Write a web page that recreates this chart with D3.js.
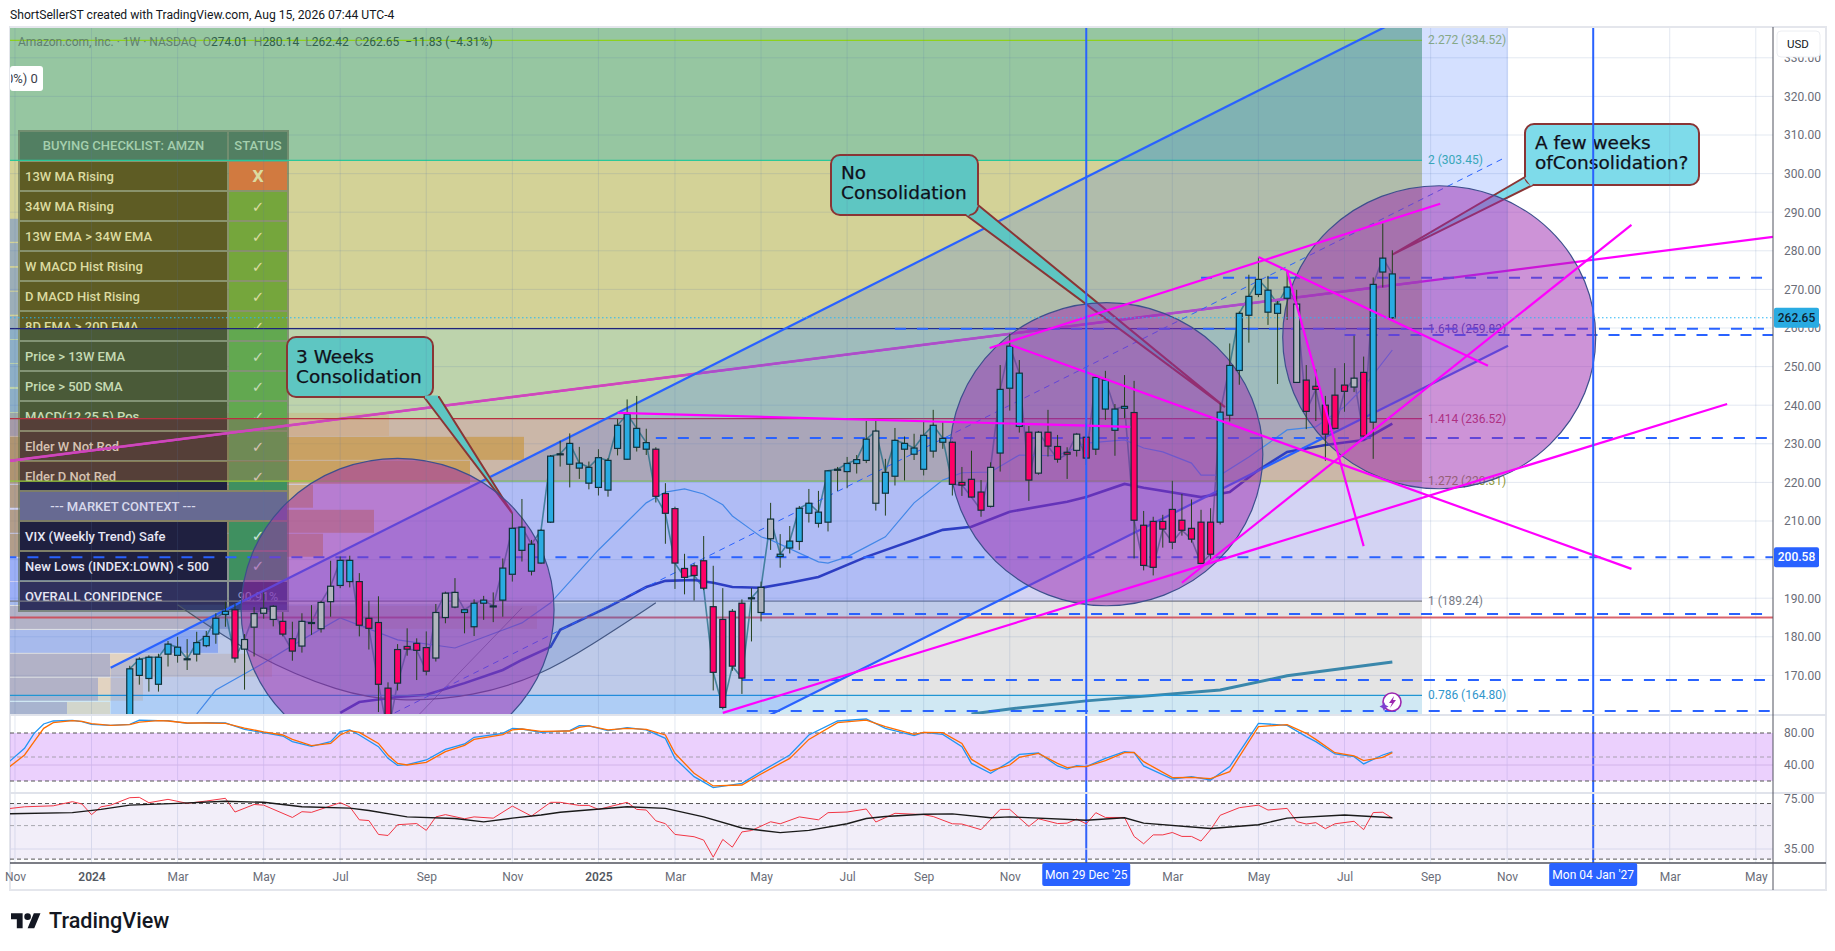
<!DOCTYPE html>
<html lang="en">
<head>
<meta charset="UTF-8">
<title>AMZN weekly</title>
<script src="https://d3js.org/d3.v7.min.js"></script>
<style>
    html, body { margin: 0; padding: 0; background: #fff; }
    svg { display: block; }
    text { font-family: Roboto, "Liberation Sans", sans-serif; }
    .axis text { fill: #6a6d78; font-size: 12px; }
    .axis path, .axis line { display: none; }
    .callout text { font-family: "DejaVu Sans", sans-serif; font-size: 18.5px; fill: #10101a; stroke: #10101a; stroke-width: .25px; }
</style>
</head>
<body>
<div id="chart"></div>
<script>
    // weekly bars, index 0 = week of Mon 1 Jan 2024, first drawn bar is week 4
    const firstBarWeek = 4;
    const barBodyTop = [
        171.7,174.2,174.7,174.7,178.1,177.3,174.3,178.5,180.1,184.8,186.6,187,179.3,186,187.4,187.9,184,179.5,184,183.7,
        188.9,193.1,199.8,199.8,194.3,184.8,183.7,166.7,176.7,177.5,178.3,177.2,186.3,191.3,191.5,187,188.7,189.5,188,197.8,
        208.1,208.4,204,207.6,226.8,227.4,230.1,225,223.9,226.4,225.7,234.8,237.7,234,230.3,228.6,217.1,213.2,197.7,198.4,
        199.7,187.8,184.5,186.6,188.7,190.1,192.8,210.5,201.4,204.8,213.3,214.6,212.3,223,223.4,224.9,225.9,231.2,233.3,222.6,
        230.9,230.1,228.9,232.2,234.8,231.4,230.4,220,220.8,217.5,223.9,244.1,255.3,248.3,233,233,233,229.3,227.8,232.5,
        231.7,247.2,246.5,239,239.7,238.1,208.9,209.9,209.9,213,210.2,208.1,209.7,209.7,238.2,250.3,263.8,268.2,272.6,269.8,
        266.2,270.6,266.2,246.5,244.9,240,242.6,245.2,247,248.5,271.3,278.1,274.01];
    const barBodyBottom = [
        155,170,169.2,167.7,175.5,175.2,174.2,175.5,177.7,180.7,185.8,174.5,176.8,182.5,186.1,184.5,180.7,176.3,177.6,183.5,
        182.1,189.1,193.3,194.3,183,182.2,167.7,155,168,176.8,176.5,171.1,174.5,185,187.7,186.3,182.6,188.7,187.8,189.5,
        196.2,202.4,197,199.1,209.7,227.2,224.7,223.7,219.8,218.7,218,228.8,226,229.1,228.6,216.4,212,199.1,195.4,195.9,
        192.6,170.8,161.7,172.4,169.3,189.9,186.3,205.4,200.8,203,204.7,212,209.4,209.7,223.2,222.8,224.9,225.7,214.6,217.2,
        221.6,228.6,227.3,223.4,228.1,230.4,219.5,219.3,216.2,212.8,213.8,227.6,244.4,234.5,220.6,222.4,229.4,226,227.3,228.3,
        226.3,228.6,239,233.5,239.2,210.2,198.5,198,207.9,204.5,207.6,205.3,199,201.4,209.7,237.4,249,263.3,268.7,264.1,
        263.8,267.7,245.9,238.4,244.1,232.5,234,243.6,244.7,232,235.6,274.5,262.65];
    const barHigh = [
        172.5,174.7,175.2,175.6,178.9,180,179.4,181.3,181.5,186.1,189.1,188.5,180.7,187.7,191.5,188.2,186.4,183.9,186.1,188.2,
        189.3,199.7,200.8,201,196.5,189.3,190.5,168.2,178.1,182.2,179.6,181.4,188.5,191.7,195.2,187.2,189.7,190.6,191.5,200.3,
        212,215.7,205.1,207.8,227.1,230.8,232.7,229.2,225.4,228.6,226.3,236.4,241.5,242.4,233.9,229.1,219.8,213.7,201.5,199,
        206.1,198.4,192.6,187.2,189.7,192.6,194.3,214.7,206.6,208.7,213.9,218.3,217.8,223.2,224,226.6,227.1,235.9,236.4,226.1,
        234.1,231.9,232.6,235.9,238.8,235.9,230.6,224,228.2,220.6,225.2,250.4,258.5,251.7,234.6,233.3,238.8,232.3,229.1,232.7,
        235.3,247.4,248.9,240.3,247.8,246.3,212.6,211.1,211.6,220.4,217,215.6,212.9,213.3,240.5,256,264.3,273.8,278.3,273.5,
        267,274.9,269.9,250.4,249.3,242.4,249.6,250.9,258,252.6,273.1,287.1,280.14];
    const barLow = [
        153,167.6,165.8,165.8,172.3,173.3,171.4,173.6,177.3,178.2,182.6,173.3,166.3,174.9,184.7,182.7,180.1,173.8,175.9,180.5,
        181.1,185.2,192.6,192.8,180.1,176.7,160.5,150,166.1,175.1,168.8,170,173.6,183.5,187.4,180.9,180.2,184.4,183.8,185.2,
        194.3,199.5,195.9,198.9,209.5,224.1,218.7,220.9,218.2,216.6,216.3,227,225.8,228,227.1,214.8,204.1,192.4,191,189.4,
        192.1,166.1,161.2,171.2,165.2,178.8,184,202.5,197.9,201.6,202.5,209.6,208.3,207.3,217.8,218.5,222.3,225,212.7,211.4,
        219.2,220.5,225.8,221.8,226.4,228.7,216.6,216.5,216.1,211.1,213.5,222.8,238.6,232.9,215.2,222,226.7,225.1,220.9,226.7,
        224.5,227.1,236.2,226.9,236.6,200.3,197.2,195.9,203.1,202.7,206.2,204.4,199,199.9,209.1,235.8,245.3,256.2,268,260.8,
        245.5,262.1,255.2,233.8,235.9,225.6,233.8,238.3,243.4,231.2,226.1,270.5,262.42];
    // u = blue, d = pink, g = grey, n = doji, one per bar, weeks 4 to 136
    const barTone = [
        "u","u","u","u","u","u","n","u","u","u","u","d","g","g","g","g","d","d","g","n",
        "g","g","u","u","d","d","d","d","d","d","d","d","g","g","g","u","u","u","n","u",
        "u","u","u","u","u","n","u","u","u","u","u","u","u","u","u","d","d","d","d","d",
        "d","d","d","d","d","n","g","g","u","u","u","u","u","u","n","u","u","u","g","u",
        "u","u","u","u","u","u","d","d","d","d","g","u","u","u","d","g","d","d","d","g",
        "d","u","u","u","u","d","d","d","d","d","d","d","d","d","u","u","u","u","u","u",
        "u","u","g","d","d","d","d","d","g","d","u","u","u"];

    const ma13Weeks = [11,13,18,22,26,32,38,45,48,53,58,60,62,64,66,67,69,70,71,76,77,79,81,83,86,89,91,94,97,101,104,108,110,112,115,116,118,121,124,125,128,131,133,136];
    const ma13Values = [160,166.2,173.2,179.2,184.9,179.2,177.1,183.6,188.8,202.5,214.7,217.5,218.3,217,214.2,211.3,207.7,205.9,205.1,199.4,199.1,200.7,203.3,205.9,214.7,220.6,222.5,222.7,227.1,226.9,230.2,231,228.9,227.9,225,221.9,221.9,226.6,231.8,233.6,234.4,239.6,244.7,254.3];
    const ma34Weeks = [26,28,32,35,39,43,45,48,49,54,56,58,60,63,65,67,70,73,76,81,89,92,96,102,104,108,110,116,119,122,125,129,133,136];
    const ma34Values = [160.3,163.1,164.4,165,168,171.4,174,177.4,181.8,187.7,190.3,192.9,194.5,194.7,194,192.9,192.7,194,195.5,200.7,207.7,208.5,212.4,215,216.2,219.6,218.6,216.2,217.5,223.2,227.9,229.7,231,235.2];
    const ma200Weeks = [92,96,104,118,125,136];
    const ma200Values = [160,161.3,163.4,166.2,169.9,173.5];

    const stochWeeks = [-9,-7,-6,-5,-4,-2,-1,0,2,4,5,7,8,10,12,14,16,18,20,21,23,25,26,27,28,30,31,32,33,35,37,39,40,43,44,45,47,50,51,52,54,56,58,60,61,63,65,68,70,73,75,78,81,83,86,87,89,91,92,94,96,97,99,101,102,103,104,106,108,109,110,113,115,117,119,122,125,127,128,130,132,133,135,136];
    const stochK = [40,60.8,79.6,91.3,95,95.8,94.2,90.8,89.6,90.8,96.2,95.4,95.4,92.1,92.9,92.5,84.6,80.4,76.2,69.2,63.3,69.2,81.7,83.8,77.5,62.9,48.3,39.6,40.4,46.3,59.6,66.3,74.6,79.6,85.8,85,80.8,82.9,89.2,88.8,82.9,86.7,83.8,73.3,48.3,25.4,11.7,17.1,31.7,52.5,77.5,95,97.5,85.8,76.7,80.8,78.3,62.9,42,29.6,44.2,53.3,55,38.8,35,39.2,38,48.3,56.7,55.4,38.8,22.5,25.4,21.3,38,92.1,89.6,75.4,69.2,53.8,50.4,41.3,52.5,56.3];
    const stochD = [33.7,52.5,69.2,85.8,93,95.4,94.6,91.7,89.6,90.4,93.7,95.4,95,92.5,92.5,92,86.2,81.3,77.5,72,64.2,67,77.5,82.9,80.8,67,52.5,42,40,43.3,56.7,64.6,72,78,83.8,85,82,82.5,87,88.8,83.8,85.8,84.6,77.5,54.6,29.6,13.8,15,28.7,48.3,72,93,96.2,88,78.3,80.8,80.4,67,47,32.9,40,49.6,54.6,42,36.7,38,38,45.4,55.4,55.8,44.2,24.2,24.6,23,31.7,88,90.4,79.6,72,55.4,51.3,45.4,49.6,55.4];

    const rsiWeeks = [-9,-7,-4,-2,-1,0,1,2,4,5,6,8,10,12,14,15,17,18,21,22,23,26,27,28,29,30,31,32,34,35,36,37,39,40,42,44,46,48,49,51,52,53,56,57,58,59,60,61,63,64,65,66,67,68,69,71,72,74,76,77,79,81,82,84,87,88,90,91,93,95,96,98,99,101,102,103,104,105,106,108,109,110,111,112,113,114,115,116,117,118,120,122,123,125,126,127,128,129,130,132,133,134,135,136];
    const rsiValues = [64.4,66.6,67.6,72,69.5,59.1,66.6,68.3,76.5,76.9,70.9,74.6,70.2,72.7,75.8,61.5,69,68.3,56.6,61.8,61.2,70.9,66.6,54.6,54,43.7,43,50.7,51.6,46.5,57.1,59.1,55.5,57.1,56,67.3,57.8,71.3,71.3,68,68,64,71.3,64,63.4,53.8,51.5,43.7,42.2,40.1,30.9,40.5,36,45.4,46.4,53,51.4,57.1,54.6,60.9,61.5,64.4,52.8,60.3,59.1,57.4,51.4,51.2,47,64,64,49.4,55.5,51.6,51.9,55.2,51.4,60.9,56.6,56.6,42.4,37.9,43.4,43.4,45,42.4,42.4,39.5,47,58.5,65.7,68.3,63.4,65,53.2,51.2,52.3,47.7,51.4,53.4,47,61,61.3,56];
    const rsiMaWeeks = [-9,-2,1,4,9,14,18,22,27,29,33,38,41,44,47,49,56,60,64,68,72,75,79,81,83,87,90,94,96,104,108,110,117,122,125,131,136];
    const rsiMaValues = [59.8,60.9,64,68.3,70.2,72.4,71.3,66.6,65.3,62.9,57.1,55.7,52.9,56,58.8,61.3,66.6,65,57.1,48.2,44.9,46.5,51.4,55.7,57.4,59.5,59.8,56.3,57.1,54.3,56.3,51.9,47.8,50.7,56,58.8,56.3];

    // fib levels of the trend based extension
    const fibRatios = ["2.272","2","1.618","1.414","1.272","1","0.786"];
    const fibPrices = [334.52,303.45,259.82,236.52,220.31,189.24,164.80];
    const fibEndWeek = 139.1;

    const priceTicks = [330,320,310,300,290,280,270,260,250,240,230,220,210,200,190,180,170];
    const lastQuote = { o: 274.01, h: 280.14, l: 262.42, c: 262.65, chg: "−11.83 (−4.31%)" };
    const alertPrice = 200.58;

    const tickDates = ["2023-11-06","2024-01-01","2024-03-04","2024-05-06","2024-07-01","2024-09-02","2024-11-04","2025-01-06","2025-03-03","2025-05-05","2025-07-07","2025-09-01","2025-11-03","2026-03-02","2026-05-04","2026-07-06","2026-09-07","2026-11-02","2027-03-01","2027-05-03"];
    const tickLabels = ["Nov","2024","Mar","May","Jul","Sep","Nov","2025","Mar","May","Jul","Sep","Nov","Mar","May","Jul","Sep","Nov","Mar","May"];
    const markedDates = ["2025-12-29","2027-01-04"];
    const markedLabels = ["Mon 29 Dec '25","Mon 04 Jan '27"];

    // [week, price, week, price]
    const channelUpper = [2,172,148.1,354];
    const channelLower = [2,74.3,148.1,255.4];
    const fadedTrend = [-8.52,225.6,175.8,283.6];
    const trendLines = [
        [93.9,254.8,141,292.2],[96.1,255.6,161,197.6],[55,238,108.6,234.4],[66,160.3,171,240.3],
        [122,278.4,146,250.2],[125,274.8,133,203.5],[114,194,161,286.7]];
    const fibTrend = [31.7,160.3,147.5,303.8];
    const dashPrices = [259.82,258.2,273,231.5,200.58,185.9,168.8,160.8];
    const dashStartWeeks = [84,131,116,59,-9,70,68,68.5];
    const arcWeeks = [9,17,26,32,40,47,52,59];
    const arcPrices = [188.3,174.8,165.5,163.1,164.4,170.1,177.4,188.8];

    // ellipse: centre week, centre price, half width in weeks, half height in dollars
    const circleWeeks = [32,106.1,140.9];
    const circlePrices = [187,227.3,257.6];
    const circleHalfWeeks = 16.36;
    const circleHalfPrice = 39.25;

    // volume profile rows, anchored on the left edge
    const vpTops = [288.3,282,275.6,269.4,263.1,256.9,250.7,244.2,238,231.8,225.6,219.4,212.9,206.7,200.4,194.2,188,181.8,175.6,169.4,163.1];
    const vpUp =   [8,8,8,8,8,8,8,8,8,8,8,60,60,60,60,60,220,208,100,88,57];
    const vpMain = [0,0,0,0,0,0,0,0,0,514,460,303,364,313,0,0,0,0,0,0,0];
    const vpPale = [0,0,0,0,0,0,0,0,379,0,0,0,0,0,0,0,527,0,262,133,100];

    const checkNames = ["13W MA Rising","34W MA Rising","13W EMA > 34W EMA","W MACD Hist Rising","D MACD Hist Rising","8D EMA > 20D EMA","Price > 13W EMA","Price > 50D SMA","MACD(12,25,5) Pos","Elder W Not Red","Elder D Not Red"];
    const checkMarks = ["X","✓","✓","✓","✓","✓","✓","✓","✓","✓","✓"];
    const contextNames = ["VIX (Weekly Trend) Safe","New Lows (INDEX:LOWN) < 500","OVERALL CONFIDENCE"];
    const contextMarks = ["✓","✓","90.91%"];

    const width = 1835, height = 951;
    const paneLeft = 10, axisX = 1773, paneRight = 1826, paneTop = 28, priceBottom = 714, stochBottom = 793, timeY = 863, chartBottom = 890;

    const svg = d3.select("#chart").append("svg").attr("width", width).attr("height", height);
    const defs = svg.append("defs");
    defs.append("clipPath").attr("id", "pane").append("rect")
        .attr("x", paneLeft).attr("y", paneTop).attr("width", axisX - paneLeft).attr("height", priceBottom - paneTop);
    defs.append("clipPath").attr("id", "osc").append("rect")
        .attr("x", paneLeft).attr("y", priceBottom).attr("width", axisX - paneLeft).attr("height", timeY - priceBottom);
    defs.append("clipPath").attr("id", "chip").append("rect")
        .attr("x", 11).attr("y", 60).attr("width", 40).attr("height", 40);

    const parseDay = d3.utcParse("%Y-%m-%d");
    const week0 = parseDay("2024-01-01");
    const weekDate = w => new Date(+week0 + w * 7 * 864e5);
    const xScale = d3.scaleUtc().domain([week0, parseDay("2027-01-04")]).range([91.5, 1593.2]);
    const x = w => xScale(weekDate(w));
    const y = d3.scaleLinear().domain([310, 190]).range([135, 598.2]);
    const yStoch = d3.scaleLinear().domain([80, 40]).range([733, 765]);
    const yRsi = d3.scaleLog().domain([75, 35]).range([799, 849]);

    defs.append("clipPath").attr("id", "fibzone").append("rect")
        .attr("x", paneLeft).attr("y", paneTop).attr("width", x(fibEndWeek) - paneLeft).attr("height", priceBottom - paneTop);

    const priceLine = d3.line().x(d => x(d[0])).y(d => y(d[1]));
    const zipLine = (weeks, vals) => weeks.map((w, i) => [w, vals[i]]);
    const gridColor = "rgba(90,120,170,.17)";

    // frame
    svg.append("rect").attr("x", paneLeft).attr("y", 27).attr("width", paneRight - paneLeft).attr("height", chartBottom - 27)
        .attr("fill", "#fff").attr("stroke", "#e4e6ec").attr("stroke-width", 2);
    svg.append("text").attr("x", 10).attr("y", 19).attr("font-size", 12.15).attr("fill", "#131722")
        .text("ShortSellerST created with TradingView.com, Aug 15, 2026 07:44 UTC-4");

    // ---- price pane ----
    const pane = svg.append("g").attr("clip-path", "url(#pane)");

    const bandFills = ["#96c6a1","#d3d297","#bdd3ac","#cbb7a8","#d3d3f3","#e4e4e4","#d0e8f3"];
    const bandEdges = [400].concat(fibPrices.slice(1), [100]);
    bandFills.forEach((c, i) => {
        pane.append("rect").attr("x", paneLeft).attr("width", x(fibEndWeek) - paneLeft)
            .attr("y", y(bandEdges[i])).attr("height", y(bandEdges[i + 1]) - y(bandEdges[i])).attr("fill", c);
    });

    // grid
    priceTicks.forEach(p => pane.append("line").attr("x1", paneLeft).attr("x2", axisX)
        .attr("y1", y(p)).attr("y2", y(p)).attr("stroke", gridColor));
    tickDates.forEach(d => svg.append("line").attr("x1", xScale(parseDay(d))).attr("x2", xScale(parseDay(d)))
        .attr("y1", paneTop).attr("y2", timeY).attr("stroke", gridColor));

    // volume profile
    const vpX = d3.scaleLinear().domain([0, 100]).range([paneLeft, paneLeft + 100]);
    vpTops.forEach((p, i) => {
        const ry = y(p), rh = 23;
        if (vpUp[i]) pane.append("rect").attr("x", paneLeft).attr("y", ry).attr("width", vpX(vpUp[i]) - paneLeft).attr("height", rh).attr("fill", "rgba(41,98,255,.32)");
        if (vpMain[i]) pane.append("rect").attr("x", paneLeft).attr("y", ry).attr("width", vpX(vpMain[i]) - paneLeft).attr("height", rh).attr("fill", "rgba(200,140,30,.5)");
        if (vpPale[i]) pane.append("rect").attr("x", paneLeft).attr("y", ry).attr("width", vpX(vpPale[i]) - paneLeft).attr("height", rh).attr("fill", "rgba(220,150,70,.22)");
    });

    // close line and averages sit under the circles
    pane.append("path").attr("fill", "none").attr("stroke", "rgba(30,110,100,.75)").attr("stroke-width", 1.6)
        .attr("d", priceLine(barBodyTop.map((t, i) => [firstBarWeek + i, barTone[i] === "d" ? barBodyBottom[i] : t])));
    pane.append("path").attr("fill", "none").attr("stroke", "#4a90e2").attr("stroke-width", 1.2)
        .attr("d", priceLine(zipLine(ma13Weeks, ma13Values)));
    pane.append("path").attr("fill", "none").attr("stroke", "#2f35b5").attr("stroke-width", 2.6)
        .attr("d", priceLine(zipLine(ma34Weeks, ma34Values)));
    pane.append("path").attr("fill", "none").attr("stroke", "#3a87ab").attr("stroke-width", 3)
        .attr("d", priceLine(zipLine(ma200Weeks, ma200Values)));

    // checklist table
    const bandBreaks = [0, 329, 419, 482, 999];
    const nameCols = ["#5e5c24","#4a5a38","#553f38","#1f2040"];
    const statusCols = ["#75a63c","#62a850","#6f8a55","#3f9060"];
    const inkCols = ["#dcdba0","#c6dab4","#d6c2b2","#e6e6f4"];
    const tbl = pane.append("g");
    tbl.append("rect").attr("x", 18).attr("y", 130).attr("width", 271).attr("height", 482).attr("fill", "rgba(90,105,80,.6)");
    function bandedCell(cx, cy, cw, ch, cols) {
        bandBreaks.slice(0, -1).forEach((b, i) => {
            const a = Math.max(cy, b), e = Math.min(cy + ch, bandBreaks[i + 1]);
            if (e > a) tbl.append("rect").attr("x", cx).attr("y", a).attr("width", cw).attr("height", e - a).attr("fill", cols[i]);
        });
    }
    const nameX = 20, nameW = 207, statX = 229, statW = 58;
    tbl.append("rect").attr("x", nameX).attr("y", 132).attr("width", nameW).attr("height", 28).attr("fill", "#527f62");
    tbl.append("rect").attr("x", statX).attr("y", 132).attr("width", statW).attr("height", 28).attr("fill", "#527f62");
    tbl.append("text").attr("x", nameX + nameW / 2).attr("y", 150).attr("text-anchor", "middle").attr("font-size", 13).attr("font-weight", 500).attr("fill", "#a5cfae").text("BUYING CHECKLIST: AMZN");
    tbl.append("text").attr("x", statX + statW / 2).attr("y", 150).attr("text-anchor", "middle").attr("font-size", 13).attr("font-weight", 500).attr("fill", "#a5cfae").text("STATUS");

    checkNames.forEach((t, i) => {
        const ry = 162 + i * 30;
        bandedCell(nameX, ry, nameW, 28, nameCols);
        if (checkMarks[i] === "X") tbl.append("rect").attr("x", statX).attr("y", ry).attr("width", statW).attr("height", 28).attr("fill", "#d17a40");
        else bandedCell(statX, ry, statW, 28, statusCols);
        // fib lines cut these labels on the band edge
        const cut = bandBreaks.find(b => b > ry && b < ry + 28) || ry + 30;
        const cid = "row" + i;
        defs.append("clipPath").attr("id", cid).append("rect").attr("x", 18).attr("y", ry - 2).attr("width", 271).attr("height", cut - ry + 2);
        const ink = inkCols[d3.bisectRight(bandBreaks, ry + 2) - 1];
        const g = tbl.append("g").attr("clip-path", "url(#" + cid + ")");
        g.append("text").attr("x", nameX + 5).attr("y", ry + 19).attr("font-size", 13).attr("font-weight", 500).attr("fill", ink).text(t);
        g.append("text").attr("x", statX + statW / 2).attr("y", ry + 20).attr("text-anchor", "middle")
            .style("font-family", "DejaVu Sans").attr("font-size", 15).attr("font-weight", 700).attr("fill", ink).text(checkMarks[i]);
    });
    tbl.append("rect").attr("x", nameX).attr("y", 492).attr("width", 267).attr("height", 28).attr("fill", "#676a92");
    tbl.append("text").attr("x", 123).attr("y", 511).attr("text-anchor", "middle").attr("font-size", 13).attr("font-weight", 500).attr("fill", "#d8d9ec").text("--- MARKET CONTEXT ---");
    contextNames.forEach((t, i) => {
        const ry = 522 + i * 30;
        tbl.append("rect").attr("x", nameX).attr("y", ry).attr("width", nameW).attr("height", 28).attr("fill", i === 2 ? "#30315e" : "#1f2040");
        tbl.append("rect").attr("x", statX).attr("y", ry).attr("width", statW).attr("height", 28).attr("fill", i === 2 ? "#30315e" : "#3f9060");
        tbl.append("text").attr("x", nameX + 5).attr("y", ry + 19).attr("font-size", 13).attr("font-weight", 500).attr("fill", "#e6e6f4").text(t);
        tbl.append("text").attr("x", statX + statW / 2).attr("y", ry + 19).attr("text-anchor", "middle")
            .style("font-family", i === 2 ? "Roboto" : "DejaVu Sans").attr("font-size", i === 2 ? 12.5 : 15).attr("fill", i === 2 ? "#8f8fc0" : "#cfe6d6").text(contextMarks[i]);
    });

    // long trend line: bright past the fib block, muted over it
    const fadedPts = [[fadedTrend[0],fadedTrend[1]],[fadedTrend[2],fadedTrend[3]]];
    pane.append("path").attr("fill", "none").attr("stroke", "#ff00ff").attr("stroke-width", 2.2).attr("d", priceLine(fadedPts));
    pane.append("g").attr("clip-path", "url(#fibzone)").append("path").attr("fill", "none").attr("stroke", "#cc4ab8").attr("stroke-width", 2.4).attr("d", priceLine(fadedPts));

    // fib lines and labels
    const fibLineCols = ["#8fd01c","#2ac79a","#20247a","#b83040","#8fc83a","#787b86","#2196d3"];
    const fibTextCols = ["#9dba6a","#3cb8a8","#3d3fa8","#c03a55","#8f9a3c","#787b86","#2f96cc"];
    fibPrices.forEach((p, i) => {
        pane.append("line").attr("x1", paneLeft).attr("x2", x(fibEndWeek)).attr("y1", y(p)).attr("y2", y(p))
            .attr("stroke", fibLineCols[i]).attr("stroke-width", 1.2);
        pane.append("text").attr("x", x(fibEndWeek) + 6).attr("y", y(p) + 4).attr("font-size", 12).attr("fill", fibTextCols[i])
            .text(fibRatios[i] + " (" + p.toFixed(2) + ")");
    });
    // red level runs across the whole pane
    pane.append("line").attr("x1", paneLeft).attr("x2", axisX).attr("y1", y(185)).attr("y2", y(185))
        .attr("stroke", "#d03c48").attr("stroke-width", 2).attr("stroke-opacity", .8);

    // arc drawing
    const arcLine = d3.line().x(d => x(d[0])).y(d => y(d[1])).curve(d3.curveBasis);
    pane.append("path").attr("d", arcLine(zipLine(arcWeeks, arcPrices)))
        .attr("fill", "rgba(70,105,165,.22)").attr("stroke", "#4c5566").attr("stroke-width", 1.2);
    pane.append("path").attr("fill", "none").attr("stroke", "rgba(50,50,80,.5)")
        .attr("d", priceLine([[34.3,160],[45,187.5]]));

    // blue channel
    pane.append("path").attr("fill", "rgba(41,98,255,.2)")
        .attr("d", priceLine([[channelUpper[0],channelUpper[1]],[channelUpper[2],channelUpper[3]],[channelLower[2],channelLower[3]],[channelLower[0],channelLower[1]]]) + "Z");
    [channelUpper, channelLower].forEach(c => pane.append("path").attr("fill", "none").attr("stroke", "#2962ff").attr("stroke-width", 2.2)
        .attr("d", priceLine([[c[0],c[1]],[c[2],c[3]]])));
    pane.append("path").attr("fill", "none").attr("stroke", "#2962ff").attr("stroke-width", 1).attr("stroke-dasharray", "6 5")
        .attr("d", priceLine([[fibTrend[0],fibTrend[1]],[fibTrend[2],fibTrend[3]]]));

    // horizontal dashed levels
    dashPrices.forEach((p, i) => pane.append("line").attr("x1", x(dashStartWeeks[i])).attr("x2", axisX).attr("y1", y(p)).attr("y2", y(p))
        .attr("stroke", "#2962ff").attr("stroke-width", 2).attr("stroke-dasharray", "11 11"));

    // dotted last price
    svg.append("line").attr("x1", paneLeft).attr("x2", axisX).attr("y1", y(lastQuote.c)).attr("y2", y(lastQuote.c))
        .attr("stroke", "#29b6f6").attr("stroke-width", 1).attr("stroke-dasharray", "1.5 2.5");

    // marked verticals
    markedDates.forEach(d => svg.append("line").attr("x1", xScale(parseDay(d))).attr("x2", xScale(parseDay(d)))
        .attr("y1", paneTop).attr("y2", timeY).attr("stroke", "#2962ff").attr("stroke-width", 2));

    // callouts
    function callout(bx, by, bw, bh, fill, tail, lines, tx, tyStart) {
        const g = pane.append("g").attr("class", "callout");
        g.append("path").attr("d", d3.line()(tail) + "Z").attr("fill", fill).attr("stroke", "#8a3535").attr("stroke-width", 2);
        g.append("rect").attr("x", bx).attr("y", by).attr("width", bw).attr("height", bh).attr("rx", 9)
            .attr("fill", fill).attr("stroke", "#8a3535").attr("stroke-width", 2);
        lines.forEach((t, i) => g.append("text").attr("x", tx).attr("y", tyStart + i * 20).text(t));
        // hide the tail edge where it meets the box
        g.append("line").attr("x1", tail[0][0] + 1).attr("y1", tail[0][1]).attr("x2", tail[2][0] - 1).attr("y2", tail[2][1])
            .attr("stroke", fill).attr("stroke-width", 3);
    }
    callout(287, 337, 146, 60, "#5ec6c2", [[424,397],[x(44),y(212)],[439,397]], ["3 Weeks","Consolidation"], 296, 363);
    callout(831, 155, 147, 60, "#5ec6c2", [[966,215],[x(118.5),y(239.5)],[978,205]], ["No","Consolidation"], 841, 179);
    callout(1525, 124, 174, 61, "#7edbea", [[1525,177],[x(136),y(279)],[1533,185]], ["A few weeks","ofConsolidation?"], 1535, 149);

    // circles
    circleWeeks.forEach((w, i) => pane.append("ellipse")
        .attr("cx", x(w)).attr("cy", y(circlePrices[i]))
        .attr("rx", x(circleHalfWeeks) - x(0)).attr("ry", y(0) - y(circleHalfPrice))
        .attr("fill", "rgba(156,39,176,.5)").attr("stroke", "#3d4f8d").attr("stroke-width", 1.2));

    // candles
    const toneFill = { u: "#29abe2", d: "#ff0066", g: "#b2b5be", n: "#1c3c44" };
    const candles = pane.append("g");
    barHigh.forEach((h, i) => {
        const cx = x(firstBarWeek + i);
        candles.append("line").attr("x1", cx).attr("x2", cx).attr("y1", y(h)).attr("y2", y(barLow[i]))
            .attr("stroke", "#24401c").attr("stroke-width", 1);
    });
    barBodyTop.forEach((t, i) => {
        const cx = x(firstBarWeek + i);
        candles.append("rect").attr("x", cx - 3).attr("width", 6)
            .attr("y", y(t)).attr("height", Math.max(1, y(barBodyBottom[i]) - y(t)))
            .attr("fill", toneFill[barTone[i]]).attr("stroke", "#10303a").attr("stroke-width", 1.2);
    });

    // bright trend lines on top
    trendLines.forEach(l => pane.append("path").attr("fill", "none").attr("stroke", "#ff00ff").attr("stroke-width", 2.2)
        .attr("d", priceLine([[l[0],l[1]],[l[2],l[3]]])));

    // legend row and chip
    const legend = svg.append("text").attr("x", 18).attr("y", 46).attr("font-size", 12).attr("fill", "#5f8070");
    legend.append("tspan").text("Amazon.com, Inc. · 1W · NASDAQ");
    [["O", lastQuote.o], ["H", lastQuote.h], ["L", lastQuote.l], ["C", lastQuote.c]].forEach(q => {
        legend.append("tspan").attr("dx", 6).text(q[0]);
        legend.append("tspan").attr("fill", "#2f5f4c").text(q[1]);
    });
    legend.append("tspan").attr("dx", 6).attr("fill", "#2f5f4c").text(lastQuote.chg);
    svg.append("rect").attr("x", 10).attr("y", 66).attr("width", 33).attr("height", 25).attr("rx", 3).attr("fill", "#fff");
    svg.append("text").attr("clip-path", "url(#chip)").attr("x", 6).attr("y", 83).attr("font-size", 13).attr("fill", "#3a3e4a").text("0%) 0");

    // sparkle badge
    const badge = pane.append("g").attr("transform", "translate(1392,702)");
    badge.append("circle").attr("r", 9).attr("fill", "#fff").attr("stroke", "#9c27b0").attr("stroke-width", 1.6);
    badge.append("path").attr("d", "M2,-6 L-3,1 L0,1 L-2,6 L4,-2 L1,-2 Z").attr("fill", "#9c27b0");
    badge.append("path").attr("d", "M-8,0 L-6.5,3 L-3.5,4.5 L-6.5,6 L-8,9 L-9.5,6 L-12.5,4.5 L-9.5,3 Z").attr("fill", "#7e3fd0");

    // ---- stochastic pane ----
    const osc = svg.append("g").attr("clip-path", "url(#osc)");
    osc.append("rect").attr("x", paneLeft).attr("width", axisX - paneLeft).attr("y", yStoch(80)).attr("height", yStoch(20) - yStoch(80)).attr("fill", "rgba(170,60,245,.24)");
    osc.append("line").attr("x1", paneLeft).attr("x2", axisX).attr("y1", yStoch(40)).attr("y2", yStoch(40)).attr("stroke", "#d2b4ea");
    [[80, "#555"], [50, "#a8a0b0"], [20, "#555"]].forEach(d => osc.append("line").attr("x1", paneLeft).attr("x2", axisX)
        .attr("y1", yStoch(d[0])).attr("y2", yStoch(d[0])).attr("stroke", d[1]).attr("stroke-dasharray", "4 3"));
    const stochLine = d3.line().x(d => x(d[0])).y(d => yStoch(d[1]));
    osc.append("path").attr("fill", "none").attr("stroke", "#2196f3").attr("stroke-width", 1.3).attr("d", stochLine(zipLine(stochWeeks, stochK)));
    osc.append("path").attr("fill", "none").attr("stroke", "#ff6d00").attr("stroke-width", 1.3).attr("d", stochLine(zipLine(stochWeeks, stochD)));

    svg.append("line").attr("x1", paneLeft).attr("x2", paneRight).attr("y1", stochBottom).attr("y2", stochBottom).attr("stroke", "#e0e3eb").attr("stroke-width", 2);
    svg.append("line").attr("x1", paneLeft).attr("x2", paneRight).attr("y1", priceBottom + 1).attr("y2", priceBottom + 1).attr("stroke", "#e0e3eb").attr("stroke-width", 2);

    // ---- rsi pane ----
    osc.append("rect").attr("x", paneLeft).attr("width", axisX - paneLeft).attr("y", yRsi(70)).attr("height", yRsi(30) - yRsi(70)).attr("fill", "rgba(126,87,194,.1)");
    osc.append("line").attr("x1", paneLeft).attr("x2", axisX).attr("y1", yRsi(35)).attr("y2", yRsi(35)).attr("stroke", "#d8d8ec");
    [[70, "#555"], [50, "#a8a8b0"], [30, "#555"]].forEach(d => osc.append("line").attr("x1", paneLeft).attr("x2", axisX)
        .attr("y1", yRsi(d[0])).attr("y2", yRsi(d[0])).attr("stroke", d[1]).attr("stroke-dasharray", "4 3"));
    const rsiLine = d3.line().x(d => x(d[0])).y(d => yRsi(d[1]));
    osc.append("path").attr("fill", "none").attr("stroke", "#f23645").attr("stroke-width", 1).attr("d", rsiLine(zipLine(rsiWeeks, rsiValues)));
    osc.append("path").attr("fill", "none").attr("stroke", "#1a1a1a").attr("stroke-width", 1.4).attr("d", rsiLine(zipLine(rsiMaWeeks, rsiMaValues)));

    // ---- axes ----
    svg.append("line").attr("x1", paneLeft).attr("x2", paneRight).attr("y1", timeY).attr("y2", timeY).attr("stroke", "#50535e").attr("stroke-width", 1.4);
    svg.append("line").attr("x1", axisX).attr("x2", axisX).attr("y1", 27).attr("y2", chartBottom).attr("stroke", "#50535e");

    // the 200 label sits behind the alert tag
    svg.append("g").attr("class", "axis").attr("transform", "translate(" + (axisX + 3) + ",0)")
        .call(d3.axisRight(y).tickValues(priceTicks.filter(p => p !== 200)).tickFormat(d => d.toFixed(2)).tickSize(5));
    svg.append("g").attr("class", "axis").attr("transform", "translate(" + (axisX + 3) + ",0)")
        .call(d3.axisRight(yStoch).tickValues([80, 40]).tickFormat(d => d.toFixed(2)).tickSize(5));
    svg.append("g").attr("class", "axis").attr("transform", "translate(" + (axisX + 3) + ",0)")
        .call(d3.axisRight(yRsi).tickValues([75, 35]).tickFormat(d => d.toFixed(2)).tickSize(5));

    const timeAxis = svg.append("g").attr("class", "axis").attr("transform", "translate(0," + timeY + ")")
        .call(d3.axisBottom(xScale).tickValues(tickDates.map(parseDay)).tickFormat((d, i) => tickLabels[i]).tickSize(4));
    timeAxis.selectAll("text").filter((d, i) => tickLabels[i].length === 4)
        .attr("font-weight", 600).style("fill", "#555a64");
    timeAxis.selectAll("text").attr("dy", "0.95em");

    markedDates.forEach((d, i) => {
        const cx = xScale(parseDay(d));
        svg.append("rect").attr("x", cx - 44).attr("y", timeY).attr("width", 88).attr("height", 23).attr("rx", 2).attr("fill", "#2962ff");
        svg.append("text").attr("x", cx).attr("y", timeY + 16).attr("text-anchor", "middle").attr("font-size", 12).attr("fill", "#fff").text(markedLabels[i]);
    });

    // price tags
    [[lastQuote.c, "#29abe2", "#0d2230"], [alertPrice, "#2962ff", "#fff"]].forEach(t => {
        svg.append("rect").attr("x", axisX + 1).attr("y", y(t[0]) - 10).attr("width", 45).attr("height", 20).attr("rx", 2).attr("fill", t[1]);
        svg.append("text").attr("x", axisX + 23.5).attr("y", y(t[0]) + 4).attr("text-anchor", "middle").attr("font-size", 12).attr("font-weight", 500).attr("fill", t[2]).text(t[0].toFixed(2));
    });
    svg.append("rect").attr("x", 1777).attr("y", 31).attr("width", 43).attr("height", 26).attr("rx", 4).attr("fill", "#fff").attr("stroke", "#eceef2");
    svg.append("text").attr("x", 1798).attr("y", 48).attr("text-anchor", "middle").attr("font-size", 11.5).attr("fill", "#131722").text("USD");

    // brand
    const logo = svg.append("g").attr("transform", "translate(11,910) scale(.83)").attr("fill", "#131722");
    logo.append("path").attr("d", "M14 22H7V11H0V4h14v18zM28 22h-8l7.5-18h8L28 22z");
    logo.append("circle").attr("cx", 20).attr("cy", 8).attr("r", 4);
    svg.append("text").attr("x", 49).attr("y", 928).attr("font-size", 21.6).attr("font-weight", 500).attr("fill", "#131722").text("TradingView");
</script>
</body>
</html>
